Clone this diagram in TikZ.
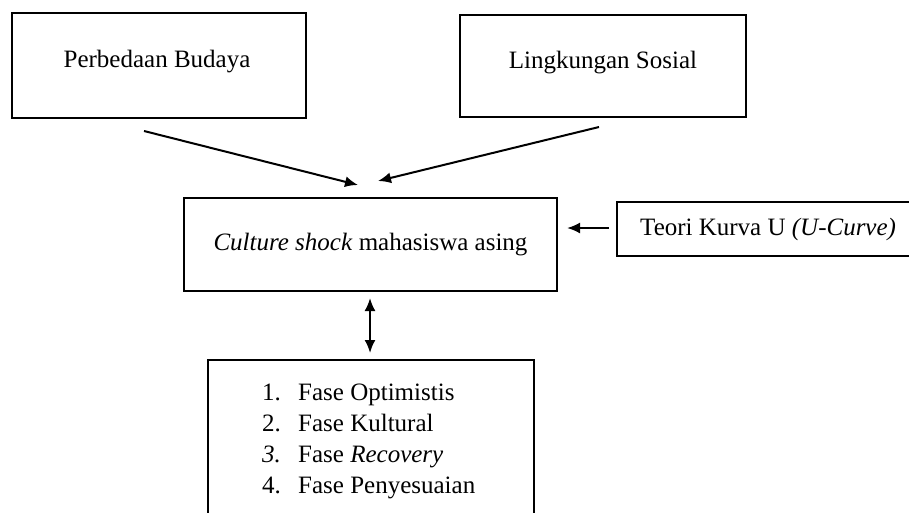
\documentclass[tikz,border=0pt]{standalone}
\usepackage{fontspec}
\setmainfont{Liberation Serif}
\usetikzlibrary{arrows.meta}
\begin{document}
\begin{tikzpicture}[x=1pt,y=-1pt,
  box/.style={draw, line width=2pt, rectangle, inner sep=0pt, font=\fontsize{25}{31}\selectfont},
  txt/.style={inner sep=0pt, font=\fontsize{25}{31}\selectfont},
  arr/.style={-{Latex[length=13pt,width=11pt]}, line width=2pt},
  darr/.style={{Latex[length=13pt,width=11pt]}-{Latex[length=13pt,width=11pt]}, line width=2pt}]
\useasboundingbox (0,0) rectangle (909,512);
\fill[white] (0,0) rectangle (909,512);
\clip (0,0) rectangle (909,512);
% top boxes
\node[box, minimum width=294pt, minimum height=105pt] (pb) at (159,65.5) {};
\node[txt] (pbt) at (157,62) {Perbedaan Budaya};
\node[box, minimum width=286pt, minimum height=102pt] (ls) at (603,66) {};
\node[txt] (lst) at (603,63) {Lingkungan Sosial};
% centre box
\node[box, minimum width=373pt, minimum height=93pt] (cs) at (370.5,244.5) {};
\node[txt] (cst) at (370.5,245) {\textit{Culture shock} mahasiswa asing};
% theory box
\node[box, minimum width=310pt, minimum height=54pt, anchor=west] (tk) at (616,229) {};
\node[txt, anchor=west] (tkt) at (640,229) {Teori Kurva U \textit{(U-Curve)}};
% bottom box
\node[box, minimum width=326pt, minimum height=170pt, anchor=north west] (fs) at (207,359) {};
\node[txt, anchor=base west] (n1) at (262,400) {1.};
\node[txt, anchor=base west] (n2) at (262,431) {2.};
\node[txt, anchor=base west] (n3) at (262,462) {\textit{3.}};
\node[txt, anchor=base west] (n4) at (262,493) {4.};
\node[txt, anchor=base west] (f1) at (298,400) {Fase Optimistis};
\node[txt, anchor=base west] (f2) at (298,431) {Fase Kultural};
\node[txt, anchor=base west] (f3) at (298,462) {Fase \textit{Recovery}};
\node[txt, anchor=base west] (f4) at (298,493) {Fase Penyesuaian};
% arrows
\coordinate (a1s) at (144,131);
\coordinate (a1e) at (358,185);
\draw[arr] (a1s) -- (a1e);
\coordinate (a2s) at (599,127);
\coordinate (a2e) at (378,181);
\draw[arr] (a2s) -- (a2e);
\coordinate (a3s) at (609,228);
\coordinate (a3e) at (567,228);
\draw[arr] (a3s) -- (a3e);
\coordinate (a4s) at (370,298);
\coordinate (a4e) at (370,353);
\draw[darr] (a4s) -- (a4e);
\end{tikzpicture}
\end{document}
